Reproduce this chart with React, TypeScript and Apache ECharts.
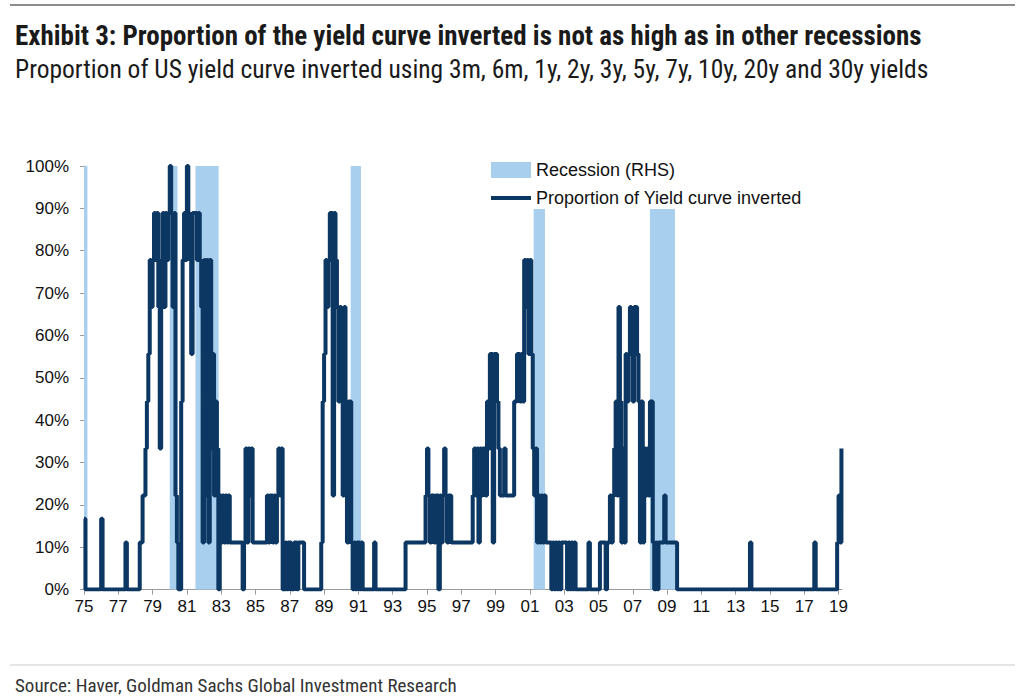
import React, { useEffect, useRef } from 'react';
import * as echarts from 'echarts';

// Monthly proportion of yield-curve pairs inverted (%), Jan of each year first
const Y1975 = [16.7, 0, 0, 0, 0, 0, 0, 0, 0, 0, 0, 0];
const Y1976 = [16.7, 0, 0, 0, 0, 0, 0, 0, 0, 0, 0, 0];
const Y1977 = [0, 0, 0, 0, 0, 11.1, 0, 0, 0, 0, 0, 0];
const Y1978 = [0, 0, 0, 11.1, 11.1, 22.2, 22.2, 33.3, 44.4, 55.6, 77.8, 66.7];
const Y1979 = [77.8, 88.9, 77.8, 88.9, 66.7, 33.3, 77.8, 88.9, 66.7, 88.9, 77.8, 88.9];
const Y1980 = [100, 88.9, 66.7, 88.9, 22.2, 11.1, 0, 0, 44.4, 77.8, 88.9, 77.8];
const Y1981 = [100, 88.9, 77.8, 55.6, 88.9, 88.9, 88.9, 77.8, 88.9, 77.8, 66.7, 11.1];
const Y1982 = [77.8, 22.2, 77.8, 11.1, 77.8, 33.3, 55.6, 22.2, 44.4, 33.3, 0, 22.2];
const Y1983 = [11.1, 22.2, 11.1, 22.2, 11.1, 22.2, 11.1, 11.1, 11.1, 11.1, 11.1, 11.1];
const Y1984 = [11.1, 11.1, 11.1, 0, 11.1, 33.3, 11.1, 33.3, 22.2, 33.3, 11.1, 11.1];
const Y1985 = [11.1, 11.1, 11.1, 11.1, 11.1, 11.1, 11.1, 11.1, 22.2, 11.1, 22.2, 22.2];
const Y1986 = [11.1, 22.2, 11.1, 22.2, 33.3, 22.2, 33.3, 0, 0, 11.1, 0, 11.1];
const Y1987 = [11.1, 0, 0, 11.1, 11.1, 0, 11.1, 11.1, 11.1, 11.1, 0, 0];
const Y1988 = [0, 0, 0, 0, 0, 0, 0, 0, 0, 0, 11.1, 44.4];
const Y1989 = [55.6, 77.8, 66.7, 77.8, 88.9, 88.9, 22.2, 88.9, 77.8, 66.7, 44.4, 66.7];
const Y1990 = [44.4, 22.2, 66.7, 44.4, 11.1, 44.4, 44.4, 11.1, 0, 11.1, 0, 11.1];
const Y1991 = [11.1, 0, 11.1, 0, 0, 0, 0, 0, 0, 0, 0, 11.1];
const Y1992 = [0, 0, 0, 0, 0, 0, 0, 0, 0, 0, 0, 0];
const Y1993 = [0, 0, 0, 0, 0, 0, 0, 0, 0, 11.1, 11.1, 11.1];
const Y1994 = [11.1, 11.1, 11.1, 11.1, 11.1, 11.1, 11.1, 11.1, 11.1, 11.1, 11.1, 22.2];
const Y1995 = [33.3, 22.2, 11.1, 22.2, 22.2, 11.1, 22.2, 22.2, 0, 22.2, 11.1, 22.2];
const Y1996 = [33.3, 22.2, 11.1, 22.2, 22.2, 11.1, 11.1, 11.1, 11.1, 11.1, 11.1, 11.1];
const Y1997 = [11.1, 11.1, 11.1, 11.1, 11.1, 11.1, 11.1, 11.1, 22.2, 33.3, 22.2, 33.3];
const Y1998 = [11.1, 33.3, 22.2, 33.3, 33.3, 22.2, 44.4, 33.3, 55.6, 55.6, 11.1, 55.6];
const Y1999 = [55.6, 44.4, 33.3, 22.2, 22.2, 22.2, 33.3, 22.2, 22.2, 22.2, 22.2, 22.2];
const Y2000 = [22.2, 44.4, 44.4, 55.6, 55.6, 44.4, 55.6, 44.4, 77.8, 66.7, 77.8, 55.6];
const Y2001 = [77.8, 55.6, 33.3, 22.2, 33.3, 11.1, 22.2, 11.1, 22.2, 11.1, 22.2, 11.1];
const Y2002 = [11.1, 11.1, 11.1, 0, 11.1, 0, 11.1, 0, 11.1, 0, 11.1, 11.1];
const Y2003 = [11.1, 11.1, 0, 11.1, 0, 11.1, 0, 11.1, 0, 0, 0, 0];
const Y2004 = [0, 0, 0, 0, 0, 11.1, 0, 0, 0, 0, 0, 0];
const Y2005 = [0, 11.1, 11.1, 11.1, 11.1, 0, 11.1, 11.1, 22.2, 11.1, 22.2, 33.3];
const Y2006 = [44.4, 22.2, 66.7, 44.4, 11.1, 33.3, 11.1, 55.6, 44.4, 55.6, 66.7, 55.6];
const Y2007 = [44.4, 66.7, 66.7, 55.6, 44.4, 11.1, 44.4, 11.1, 33.3, 22.2, 33.3, 22.2];
const Y2008 = [44.4, 44.4, 11.1, 0, 11.1, 0, 11.1, 11.1, 11.1, 11.1, 22.2, 11.1];
const Y2009 = [11.1, 11.1, 11.1, 11.1, 11.1, 11.1, 11.1, 0, 0, 0, 0, 0];
const Y2010 = [0, 0, 0, 0, 0, 0, 0, 0, 0, 0, 0, 0];
const Y2011 = [0, 0, 0, 0, 0, 0, 0, 0, 0, 0, 0, 0];
const Y2012 = [0, 0, 0, 0, 0, 0, 0, 0, 0, 0, 0, 0];
const Y2013 = [0, 0, 0, 0, 0, 0, 0, 0, 0, 0, 11.1, 0];
const Y2014 = [0, 0, 0, 0, 0, 0, 0, 0, 0, 0, 0, 0];
const Y2015 = [0, 0, 0, 0, 0, 0, 0, 0, 0, 0, 0, 0];
const Y2016 = [0, 0, 0, 0, 0, 0, 0, 0, 0, 0, 0, 0];
const Y2017 = [0, 0, 0, 0, 0, 0, 0, 11.1, 0, 0, 0, 0];
const Y2018 = [0, 0, 0, 0, 0, 0, 0, 0, 0, 0, 0, 11.1];
const Y2019 = [22.2, 11.1, 33.3];

const YEAR_ROWS = [
  Y1975, Y1976, Y1977, Y1978, Y1979, Y1980, Y1981, Y1982, Y1983, Y1984,
  Y1985, Y1986, Y1987, Y1988, Y1989, Y1990, Y1991, Y1992, Y1993, Y1994,
  Y1995, Y1996, Y1997, Y1998, Y1999, Y2000, Y2001, Y2002, Y2003, Y2004,
  Y2005, Y2006, Y2007, Y2008, Y2009, Y2010, Y2011, Y2012, Y2013, Y2014,
  Y2015, Y2016, Y2017, Y2018, Y2019,
];

const START_YEAR = 1975;
const X_TICK_LABELS = ['75', '77', '79', '81', '83', '85', '87', '89', '91', '93', '95', '97', '99', '01', '03', '05', '07', '09', '11', '13', '15', '17', '19'];
const Y_TICK_LABELS = ['0%', '10%', '20%', '30%', '40%', '50%', '60%', '70%', '80%', '90%', '100%'];

// Recession periods as [start, end] in decimal years
const RECESSIONS = [
  [1973.83, 1975.2],
  [1980.0, 1980.45],
  [1981.5, 1982.85],
  [1990.55, 1991.15],
  [2001.22, 2001.88],
  [2008.0, 2009.46],
];

const TITLE = 'Exhibit 3: Proportion of the yield curve inverted is not as high as in other recessions';
const SUBTITLE = 'Proportion of US yield curve inverted using 3m, 6m, 1y, 2y, 3y, 5y, 7y, 10y, 20y and 30y yields';
const SOURCE = 'Source: Haver, Goldman Sachs Global Investment Research';
const LEGEND_RECESSION = 'Recession (RHS)';
const LEGEND_LINE = 'Proportion of Yield curve inverted';

const NAVY = '#0b3762';
const LIGHT_BLUE = '#a9cfee';
const AXIS_GRAY = '#9a9a9a';
const NARROW = "'Liberation Sans Narrow', 'Roboto Condensed', 'DejaVu Sans Condensed', 'Arial Narrow', sans-serif";
const SANS = "'Liberation Sans', Arial, Helvetica, sans-serif";

export default function App() {
  const ref = useRef<HTMLDivElement>(null);

  useEffect(() => {
    document.body.style.margin = '0';
    if (!ref.current) return;
    const chart = echarts.init(ref.current, undefined, { renderer: 'svg' });

    const linePoints: number[][] = [];
    YEAR_ROWS.forEach((row, yi) => {
      row.forEach((v, mi) => {
        linePoints.push([yi + mi / 12, v]);
      });
    });
    const recData = RECESSIONS.map(([s, e]) => [s - START_YEAR, e - START_YEAR]);
    const xTickVals = X_TICK_LABELS.map((_, i) => i * 2);

    const option: any = {
      animation: false,
      backgroundColor: '#ffffff',
      title: [
        {
          text: TITLE,
          left: 10,
          top: 17,
          textStyle: { fontFamily: NARROW, fontWeight: 'bold', fontSize: 27, color: '#1a1a1a' },
        },
        {
          text: SUBTITLE,
          left: 10,
          top: 51,
          textStyle: { fontFamily: NARROW, fontWeight: 'normal', fontSize: 25.5, color: '#1a1a1a' },
        },
        {
          text: SOURCE,
          left: 10,
          top: 669,
          textStyle: { fontFamily: NARROW, fontWeight: 'normal', fontSize: 19, lineHeight: 22, color: '#333' },
        },
      ],
      legend: {
        orient: 'vertical',
        left: 484,
        top: 156,
        itemWidth: 40,
        itemHeight: 16,
        itemGap: 10,
        z: 10,
        textStyle: { fontFamily: SANS, fontSize: 18, color: '#111' },
        data: [
          { name: LEGEND_RECESSION, icon: 'rect' },
          { name: LEGEND_LINE, itemStyle: { opacity: 0 }, lineStyle: { width: 4, color: NAVY } },
        ],
      },
      grid: { left: 84, right: 182, top: 166, bottom: 109.5, outerBoundsMode: 'none' },
      xAxis: {
        type: 'value',
        min: 0,
        max: 44.2,
        splitLine: { show: false },
        axisLine: { show: true, lineStyle: { color: AXIS_GRAY, width: 1 } },
        axisTick: { show: true, customValues: xTickVals, length: 5, lineStyle: { color: AXIS_GRAY } },
        axisLabel: {
          customValues: xTickVals,
          formatter: (v: number) => X_TICK_LABELS[Math.round(v / 2)] ?? '',
          fontFamily: SANS,
          fontSize: 17,
          color: '#111',
          margin: 8,
        },
      },
      yAxis: {
        type: 'value',
        min: 0,
        max: 100,
        interval: 10,
        splitLine: { show: false },
        axisLine: { show: true, lineStyle: { color: AXIS_GRAY, width: 1 } },
        axisTick: { show: true, length: 4, lineStyle: { color: AXIS_GRAY } },
        axisLabel: {
          formatter: (v: number) => Y_TICK_LABELS[Math.round(v / 10)] ?? '',
          fontFamily: SANS,
          fontSize: 17,
          color: '#111',
          margin: 15,
        },
      },
      graphic: [
        {
          type: 'line',
          shape: { x1: 10, y1: 5, x2: 1015, y2: 5 },
          style: { stroke: '#8c8c8c', lineWidth: 2 },
        },
        {
          type: 'line',
          shape: { x1: 10, y1: 665, x2: 1015, y2: 665 },
          style: { stroke: '#cccccc', lineWidth: 1 },
        },
        {
          type: 'rect',
          z: 2,
          shape: { x: 482, y: 150, width: 340, height: 59 },
          style: { fill: '#ffffff' },
        },
      ],
      series: [
        {
          type: 'custom',
          name: LEGEND_RECESSION,
          z: 1,
          itemStyle: { color: LIGHT_BLUE },
          encode: { x: [0, 1] },
          data: recData,
          renderItem: (params: any, api: any) => {
            const cs = params.coordSys;
            const p0 = api.coord([api.value(0), 100]);
            const p1 = api.coord([api.value(1), 0]);
            const x0 = Math.max(p0[0], cs.x);
            const x1 = Math.min(p1[0], cs.x + cs.width);
            return {
              type: 'rect',
              shape: { x: x0, y: p0[1], width: Math.max(0, x1 - x0), height: p1[1] - p0[1] },
              style: { fill: LIGHT_BLUE },
            };
          },
        },
        {
          type: 'line',
          name: LEGEND_LINE,
          z: 3,
          step: 'end',
          symbol: 'none',
          showSymbol: false,
          data: linePoints,
          lineStyle: { color: NAVY, width: 4 },
          itemStyle: { color: NAVY },
        },
      ],
    };

    chart.setOption(option);
    return () => chart.dispose();
  }, []);

  return <div ref={ref} style={{ width: 1024, height: 699 }} />;
}
